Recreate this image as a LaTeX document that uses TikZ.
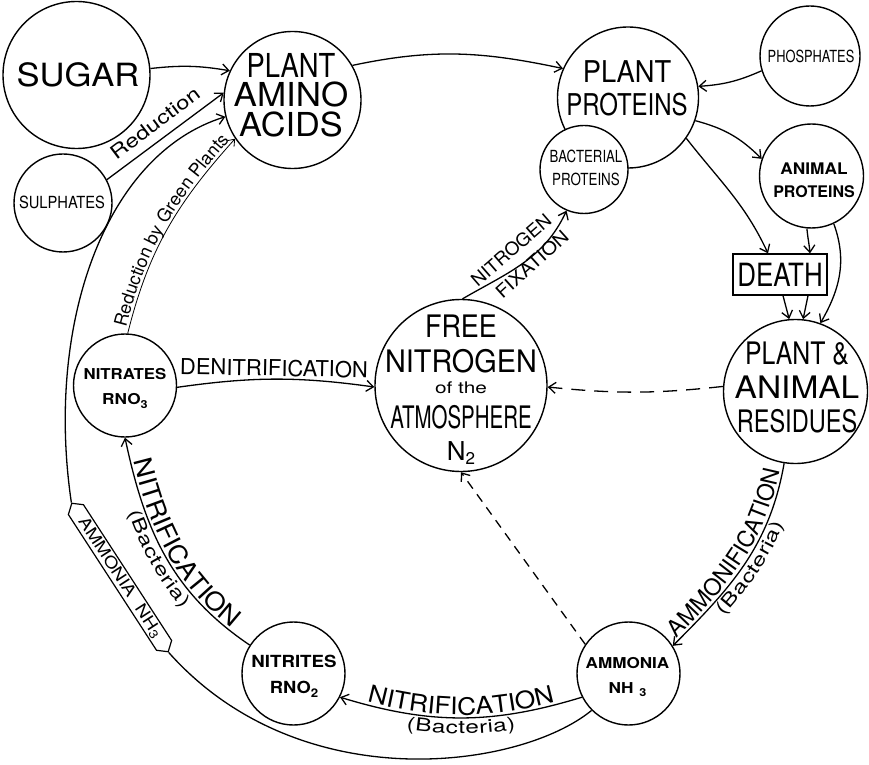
\documentclass[tikz,border=0pt]{standalone}
\usepackage{fontspec}
\usepackage{graphicx}
\setmainfont{TeX Gyre Heros}
\newfontfamily\hwide{TeX Gyre Heros}[FakeStretch=1.1]
\newfontfamily\hwider{TeX Gyre Heros}[FakeStretch=1.35]
\usetikzlibrary{arrows.meta,shapes.symbols,decorations.text}
\newcommand\hsc[2]{\scalebox{#1}[1]{#2}}
\newcommand\fsz[1]{\fontsize{#1}{#1}\selectfont}
\begin{document}
\begin{tikzpicture}[x=1pt,y=1pt,
  circ/.style={draw, circle, line width=1.4pt, fill=white, inner sep=0pt},
  lbl/.style={inner sep=0pt, align=center},
  arr/.style={line width=1.3pt, -{Straight Barb[length=7pt,width=11pt]}},
  arrthin/.style={line width=0.8pt, -{Straight Barb[length=6pt,width=9pt]}},
  plain/.style={line width=1.3pt},
  hexa/.style={draw, line width=1.2pt, signal, signal to=east and west,
    signal pointer angle=100, minimum width=177pt, minimum height=18pt,
    inner sep=0pt, fill=white},
  alongtext/.style={decorate, decoration={text along path, text align=center, #1}}
]
\fill[white] (0,0) rectangle (869,764);
\useasboundingbox (0,0) rectangle (869,764);

% circles
\node[circ, minimum size=147pt] (sugar) at (76.5,689) {};
\node[circ, minimum size=98pt] (sulph) at (63,561) {};
\node[circ, minimum size=137pt] (amino) at (292.5,664) {};
\node[circ, minimum size=141pt] (plprot) at (628,666.5) {};
\node[circ, minimum size=100pt] (phos) at (810,708) {};
\node[circ, minimum size=88pt] (bact) at (584,594.5) {};
\node[circ, minimum size=104pt] (anprot) at (811.5,588) {};
\node[draw, rectangle, line width=1.3pt, minimum width=94pt, minimum height=41pt, inner sep=0pt, font=\fsz{32}] (death) at (780,489.5) {\hsc{0.81}{DEATH}};
\node[circ, minimum size=172pt] (freeN) at (461,378.5) {};
\node[circ, minimum size=144pt] (resid) at (795.5,372.5) {};
\node[circ, minimum size=103pt] (nitrates) at (125,378.5) {};
\node[circ, minimum size=103pt] (nitrites) at (293.5,90.5) {};
\node[circ, minimum size=103pt] (ammonia) at (628.5,90.5) {};
\node[hexa, rotate=-57] (ammhex) at (120,186.5) {\fsz{16}\hsc{1.2}{AMMONIA\hspace{10pt}NH\raisebox{-2pt}{\fsz{12}3}}};

% texts in circles
\node[lbl, anchor=north, font=\fsz{32}] (sugarT) at (78,702) {\hsc{1.08}{SUGAR}};
\node[lbl, anchor=north, font=\fsz{16.7}] (sulphT) at (62,568) {\hsc{0.88}{SULPHATES}};
\node[lbl, anchor=north, font=\fontsize{33}{29.5}\selectfont] (aminoT) at (291,711) {\hsc{0.83}{PLANT}\\\hsc{1.06}{AMINO}\\\hsc{1.04}{ACIDS}};
\node[lbl, anchor=north, font=\fontsize{30}{33}\selectfont] (plprotT) at (627,704) {\hsc{0.91}{PLANT}\\\hsc{0.80}{PROTEINS}};
\node[lbl, anchor=north, font=\fsz{16.7}] (phosT) at (811,714) {\hsc{0.77}{PHOSPHATES}};
\node[lbl, anchor=north, font=\fontsize{16.7}{23}\selectfont] (bactT) at (586,614) {\hsc{0.79}{BACTERIAL}\\\hsc{0.80}{PROTEINS}};
\node[lbl, anchor=north, font=\fontsize{16}{23}\selectfont\bfseries] (anprotT) at (814,601) {\hsc{1.08}{ANIMAL}\\\hsc{1.0}{PROTEINS}};
\node[lbl, anchor=north, font=\fontsize{31}{35}\selectfont] (freeNT) at (461,449) {\hsc{0.87}{FREE}\\\hsc{0.93}{NITROGEN}\\[-14pt]{\fsz{16}\hsc{1.3}{of the}}\\\hsc{0.66}{ATMOSPHERE}\\[-3pt]{\fsz{26}N\raisebox{-4pt}{\fsz{17}2}}};
\node[lbl, anchor=north, font=\fontsize{31}{34}\selectfont] (residT) at (797,422) {\hsc{0.8}{PLANT \&}\\\hsc{1.08}{ANIMAL}\\\hsc{0.76}{RESIDUES}};
\node[lbl, anchor=north, font=\fontsize{15}{25}\selectfont\bfseries] (nitratesT) at (125,396) {\hsc{1.12}{NITRATES}\\\hsc{1.15}{RNO\raisebox{-4pt}{\fsz{11}3}}};
\node[lbl, anchor=north, font=\fontsize{16.7}{26}\selectfont\bfseries] (nitritesT) at (294,109) {\hsc{1.12}{NITRITES}\\\hsc{1.1}{RNO\raisebox{-4pt}{\fsz{12}2}}};
\node[lbl, anchor=north, font=\fontsize{15}{25}\selectfont\bfseries] (ammoniaT) at (627.5,107) {\hsc{1.14}{AMMONIA}\\\hsc{1.15}{NH\hspace{5pt}\raisebox{-3pt}{\fsz{11}3}}};

% connectors
\draw[arr] (sugar.5) to[bend left=8] (amino.155);
\draw[arr] (sulph.28) -- (amino.174);
\draw[plain] (ammonia.225) .. controls (520,-5) and (300,-36) .. (ammhex.east);
\draw[arr] (ammhex.west) .. controls (45,440) and (105,610) .. (amino.194);
\draw[arrthin] (nitrates.87) to[out=76,in=228] (amino.214);
\draw[arr] (amino.30) to[out=12,in=168] (plprot.156);
\draw[arr] (phos.197) to[bend left=10] (plprot.9);
\draw[arr] (plprot.-19) to[bend left=15] (anprot.161);
\draw[arr] (plprot.-35) to[out=-52,in=115] ([xshift=-12pt]death.north);
\draw[arr] (anprot.-95) to[out=-85,in=95] ([xshift=30pt]death.north);
\draw[arr] (anprot.-65) to[out=-70,in=60] (resid.70);
\draw[arr] ([xshift=3pt]death.south) -- (resid.95);
\draw[arr] ([xshift=28pt]death.south) -- (resid.84);
\draw[arr] (resid.-99) to[out=-100,in=45] (ammonia.32);
\draw[arr] (ammonia.207) to[bend left=17] (nitrites.-27);
\draw[arr] (nitrites.147) to[out=146,in=-78] (nitrates.-90);
\draw[arr] (nitrates.-2) to[bend left=8] (freeN.181);
\draw[arr] (freeN.89) to[out=30,in=245] (bact.-113);
\draw[arr, dash pattern=on 14pt off 9pt] (resid.176) to[bend left=6] (freeN.-1);
\draw[arr, dash pattern=on 9pt off 7pt] (ammonia.146) -- (freeN.-90);

% connector labels
\node[lbl, rotate=37, font=\fsz{19}] (redlbl) at (155,641) {\hsc{1.25}{Reduction}};
\node[lbl, rotate=41, font=\fsz{18}] (nitlbl) at (511,514) {\hsc{1.05}{NITROGEN}};
\node[lbl, rotate=42, font=\fsz{18}] (fixlbl) at (532,500) {\hsc{1.12}{FIXATION}};
\node[lbl, rotate=-1, font=\fsz{22}] (denlbl) at (274,396) {DENITRIFICATION};

\path[alongtext={raise=3pt, text={|\fsz{18}|Reduction by Green Plants}}] (nitrates.87) to[out=76,in=228] (amino.214);
\path[alongtext={raise=3pt, text={|\hwide\fsz{25}|NITRIFICATION}}] (nitrates.-90) to[out=-78,in=146] (nitrites.147);
\path[alongtext={raise=-16pt, text={|\hwider\fsz{18}|(Bacteria)}}] (nitrates.-90) to[out=-78,in=146] (nitrites.147);
\path[alongtext={raise=3pt, text={|\fsz{23}|AMMONIFICATION}}] (ammonia.32) to[out=45,in=-100] (resid.-99);
\path[alongtext={raise=-16pt, text={|\hwider\fsz{18}|(Bacteria)}}] (ammonia.32) to[out=45,in=-100] (resid.-99);
\path[alongtext={raise=3pt, text={|\hwide\fsz{24}|NITRIFICATION}}] (nitrites.-27) to[bend right=17] (ammonia.207);
\path[alongtext={raise=-16pt, text={|\hwider\fsz{18}|(Bacteria)}}] (nitrites.-27) to[bend right=17] (ammonia.207);
\end{tikzpicture}
\end{document}
